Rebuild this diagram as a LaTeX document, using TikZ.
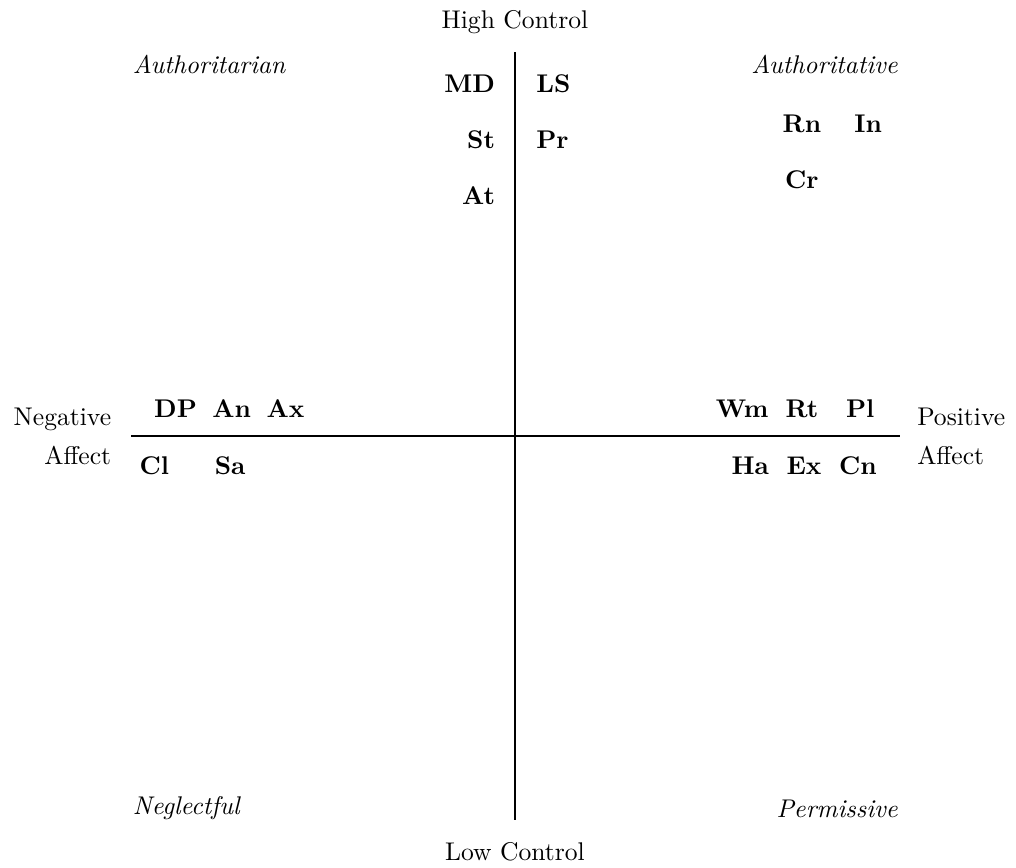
\documentclass[tikz,border=0pt]{standalone}
\usepackage{amsmath,amssymb}
\usepackage{tikz}
\usetikzlibrary{positioning,calc}

\begin{document}
\begin{tikzpicture}[
    axis/.style={thick},
    pole/.style={align=center,font=\normalsize},
    quadrant/.style={font=\itshape},
    item/.style={font=\bfseries}
  ]
    \useasboundingbox (-7.07,-5.92) rectangle (6.88,5.99);

    % axes
    \coordinate (top) at (0,5.27);
    \coordinate (bottom) at (0,-5.27);
    \coordinate (left) at (-5.27,0);
    \coordinate (right) at (5.29,0);
    \draw[axis] (top) -- (bottom);
    \draw[axis] (left) -- (right);

    % poles
    \node[pole] (high) at (0,5.69) {High Control};
    \node[pole] (low) at (0,-5.71) {Low Control};
    \node[pole,align=right,anchor=east] (neg) at (-5.42,0) {Negative\\[3pt]Affect};
    \node[pole,align=left,anchor=west] (pos) at (5.40,0) {Positive\\[3pt]Affect};

    % quadrants
    \node[quadrant,anchor=west] (authoritarian) at (-5.37,5.11) {Authoritarian};
    \node[quadrant,anchor=east] (authoritative) at (5.38,5.11) {Authoritative};
    \node[quadrant,anchor=west] (neglectful) at (-5.37,-5.11) {Neglectful};
    \node[quadrant,anchor=east] (permissive) at (5.38,-5.11) {Permissive};

    % high control
    \node[item,anchor=east] (MD) at (-0.15,4.84) {MD};
    \node[item,anchor=east] (St) at (-0.15,4.07) {St};
    \node[item,anchor=east] (At) at (-0.15,3.30) {At};
    \node[item,anchor=west] (LS) at (0.17,4.84) {LS};
    \node[item,anchor=west] (Pr) at (0.17,4.07) {Pr};

    \node[item] (Rn) at (3.94,4.29) {Rn};
    \node[item] (In) at (4.85,4.29) {In};
    \node[item] (Cr) at (3.94,3.52) {Cr};

    % affect
    \node[item] (DP) at (-4.66,0.38) {DP};
    \node[item] (An) at (-3.89,0.38) {An};
    \node[item] (Ax) at (-3.15,0.38) {Ax};
    \node[item] (Cl) at (-4.95,-0.41) {Cl};
    \node[item] (Sa) at (-3.91,-0.41) {Sa};

    \node[item] (Wm) at (3.12,0.38) {Wm};
    \node[item] (Rt) at (3.94,0.38) {Rt};
    \node[item] (Pl) at (4.74,0.38) {Pl};
    \node[item] (Ha) at (3.23,-0.41) {Ha};
    \node[item] (Ex) at (3.97,-0.41) {Ex};
    \node[item] (Cn) at (4.71,-0.41) {Cn};
  \end{tikzpicture}
\end{document}
